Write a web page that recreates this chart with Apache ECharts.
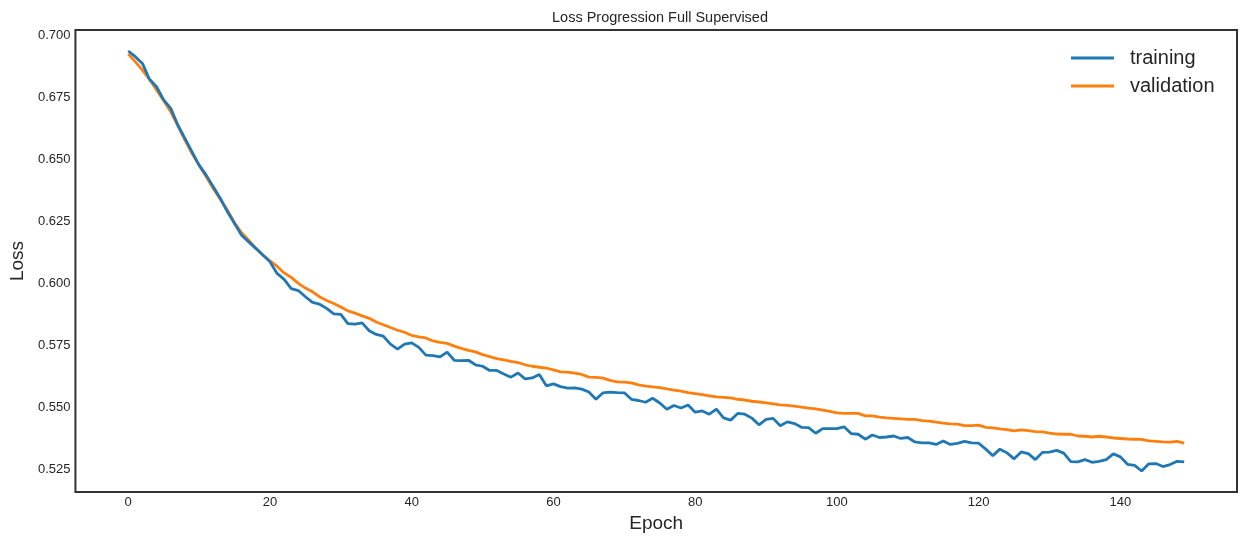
<!DOCTYPE html>
<html>
<head>
<meta charset="utf-8">
<script src="https://cdn.jsdelivr.net/npm/echarts@6/dist/echarts.min.js"></script>
<style>
html,body{margin:0;padding:0;background:#fff;}
#chart{width:1246px;height:543px;}
</style>
</head>
<body>
<div id="chart"></div>
<script>
// ---- data ----
const title = 'Loss Progression Full Supervised';
const seriesNames = ['training', 'validation'];
const training = [
0.6936, 0.6913, 0.6886, 0.6822, 0.6792, 0.6739, 0.6705, 0.6638, 0.6584, 0.6530,
0.6476, 0.6436, 0.6389, 0.6342, 0.6288, 0.6241, 0.6194, 0.6167, 0.6141, 0.6114,
0.6087, 0.6040, 0.6016, 0.5979, 0.5971, 0.5946, 0.5923, 0.5916, 0.5899, 0.5877,
0.5875, 0.5838, 0.5836, 0.5841, 0.5809, 0.5794, 0.5787, 0.5755, 0.5735, 0.5755,
0.5760, 0.5742, 0.5711, 0.5709, 0.5704, 0.5723, 0.5690, 0.5689, 0.5690, 0.5672,
0.5666, 0.5649, 0.5649, 0.5635, 0.5622, 0.5639, 0.5615, 0.5619, 0.5633, 0.5587,
0.5595, 0.5584, 0.5578, 0.5579, 0.5574, 0.5562, 0.5533, 0.5559, 0.5562, 0.5560,
0.5559, 0.5533, 0.5528, 0.5521, 0.5537, 0.5518, 0.5493, 0.5508, 0.5498, 0.5510,
0.5481, 0.5486, 0.5473, 0.5493, 0.5458, 0.5449, 0.5476, 0.5473, 0.5457, 0.5430,
0.5452, 0.5456, 0.5426, 0.5442, 0.5435, 0.5420, 0.5419, 0.5396, 0.5415, 0.5415,
0.5415, 0.5422, 0.5395, 0.5392, 0.5372, 0.5389, 0.5379, 0.5381, 0.5385, 0.5375,
0.5379, 0.5361, 0.5357, 0.5357, 0.5351, 0.5365, 0.5351, 0.5355, 0.5363, 0.5357,
0.5356, 0.5332, 0.5306, 0.5332, 0.5317, 0.5293, 0.5321, 0.5314, 0.5290, 0.5319,
0.5320, 0.5327, 0.5316, 0.5282, 0.5281, 0.5290, 0.5279, 0.5283, 0.5290, 0.5313,
0.5301, 0.5271, 0.5267, 0.5244, 0.5273, 0.5274, 0.5262, 0.5270, 0.5283, 0.5281
];
const validation = [
0.6924, 0.6893, 0.6859, 0.6822, 0.6779, 0.6736, 0.6691, 0.6634, 0.6577, 0.6523,
0.6476, 0.6429, 0.6382, 0.6338, 0.6295, 0.6244, 0.6204, 0.6174, 0.6141, 0.6114,
0.6091, 0.6069, 0.6042, 0.6024, 0.6000, 0.5981, 0.5966, 0.5946, 0.5931, 0.5919,
0.5905, 0.5889, 0.5880, 0.5869, 0.5859, 0.5844, 0.5833, 0.5822, 0.5811, 0.5803,
0.5790, 0.5784, 0.5780, 0.5768, 0.5762, 0.5758, 0.5747, 0.5738, 0.5730, 0.5724,
0.5713, 0.5705, 0.5697, 0.5692, 0.5686, 0.5681, 0.5672, 0.5666, 0.5662, 0.5658,
0.5651, 0.5643, 0.5642, 0.5638, 0.5633, 0.5622, 0.5621, 0.5618, 0.5609, 0.5603,
0.5602, 0.5599, 0.5591, 0.5586, 0.5583, 0.5580, 0.5575, 0.5570, 0.5566, 0.5560,
0.5556, 0.5552, 0.5547, 0.5543, 0.5541, 0.5539, 0.5533, 0.5530, 0.5525, 0.5522,
0.5518, 0.5514, 0.5510, 0.5508, 0.5505, 0.5501, 0.5497, 0.5494, 0.5489, 0.5484,
0.5478, 0.5476, 0.5476, 0.5476, 0.5466, 0.5466, 0.5461, 0.5458, 0.5456, 0.5454,
0.5452, 0.5452, 0.5447, 0.5445, 0.5441, 0.5437, 0.5434, 0.5433, 0.5427, 0.5427,
0.5429, 0.5420, 0.5418, 0.5414, 0.5411, 0.5406, 0.5410, 0.5407, 0.5403, 0.5402,
0.5397, 0.5393, 0.5392, 0.5392, 0.5385, 0.5384, 0.5381, 0.5384, 0.5381, 0.5377,
0.5375, 0.5373, 0.5372, 0.5371, 0.5365, 0.5363, 0.5361, 0.5360, 0.5363, 0.5356
];
const xTicks = [0, 20, 40, 60, 80, 100, 120, 140];
const yTicks = [0.525, 0.550, 0.575, 0.600, 0.625, 0.650, 0.675, 0.700];
const xLabel = 'Epoch';
const yLabel = 'Loss';

// ---- build ----
const epochs = training.map((_, i) => i);
function pairs(vals) { return vals.map((v, i) => [epochs[i], v]); }
const xMinD = Math.min(...epochs), xMaxD = Math.max(...epochs);
const allY = training.concat(validation);
const yMinD = Math.min(...allY), yMaxD = Math.max(...allY);
const xPad = (xMaxD - xMinD) * 0.05, yPad = (yMaxD - yMinD) * 0.05;

const FONT = "'Liberation Sans', Arial, sans-serif";
const TXT = '#262626';

const chart = echarts.init(document.getElementById('chart'), null, {renderer: 'canvas'});
chart.setOption({
  animation: false,
  backgroundColor: '#ffffff',
  title: {
    text: title, left: 655, top: 5, textAlign: 'center',
    textStyle: {fontFamily: FONT, fontSize: 14.5, fontWeight: 'normal', color: TXT}
  },
  legend: {
    data: seriesNames, orient: 'vertical', left: 1071, top: 48, padding: 0,
    itemWidth: 43, itemHeight: 3, itemGap: 8, icon: 'rect',
    textStyle: {fontFamily: FONT, fontSize: 20, color: TXT, padding: [0, 0, 0, 11]}
  },
  grid: {
    left: 73, right: 9, top: 30, bottom: 51,
    show: true, borderColor: '#333333', borderWidth: 2, backgroundColor: '#ffffff',
    containLabel: false
  },
  xAxis: {
    type: 'value', min: xMinD - xPad, max: xMaxD + xPad,
    name: xLabel, nameLocation: 'middle', nameGap: 22,
    nameTextStyle: {fontFamily: FONT, fontSize: 19, color: TXT},
    axisLine: {show: false}, axisTick: {show: false}, splitLine: {show: false},
    axisLabel: {
      customValues: xTicks, margin: 4,
      fontFamily: FONT, fontSize: 13, color: TXT,
      formatter: v => String(v)
    }
  },
  yAxis: {
    type: 'value', min: yMinD - yPad, max: yMaxD + yPad,
    name: yLabel, nameLocation: 'middle', nameGap: 46, nameRotate: 90,
    nameTextStyle: {fontFamily: FONT, fontSize: 19, color: TXT},
    axisLine: {show: false}, axisTick: {show: false}, splitLine: {show: false},
    axisLabel: {
      customValues: yTicks, margin: 5,
      fontFamily: FONT, fontSize: 13, color: TXT,
      formatter: v => v.toFixed(3)
    }
  },
  series: [
    {name: seriesNames[0], type: 'line', data: pairs(training), showSymbol: false, symbol: 'none',
     lineStyle: {color: '#1f77b4', width: 2.8}, itemStyle: {color: '#1f77b4'}, z: 3},
    {name: seriesNames[1], type: 'line', data: pairs(validation), showSymbol: false, symbol: 'none',
     lineStyle: {color: '#ff7f0e', width: 2.8}, itemStyle: {color: '#ff7f0e'}, z: 2}
  ]
});
</script>
</body>
</html>
